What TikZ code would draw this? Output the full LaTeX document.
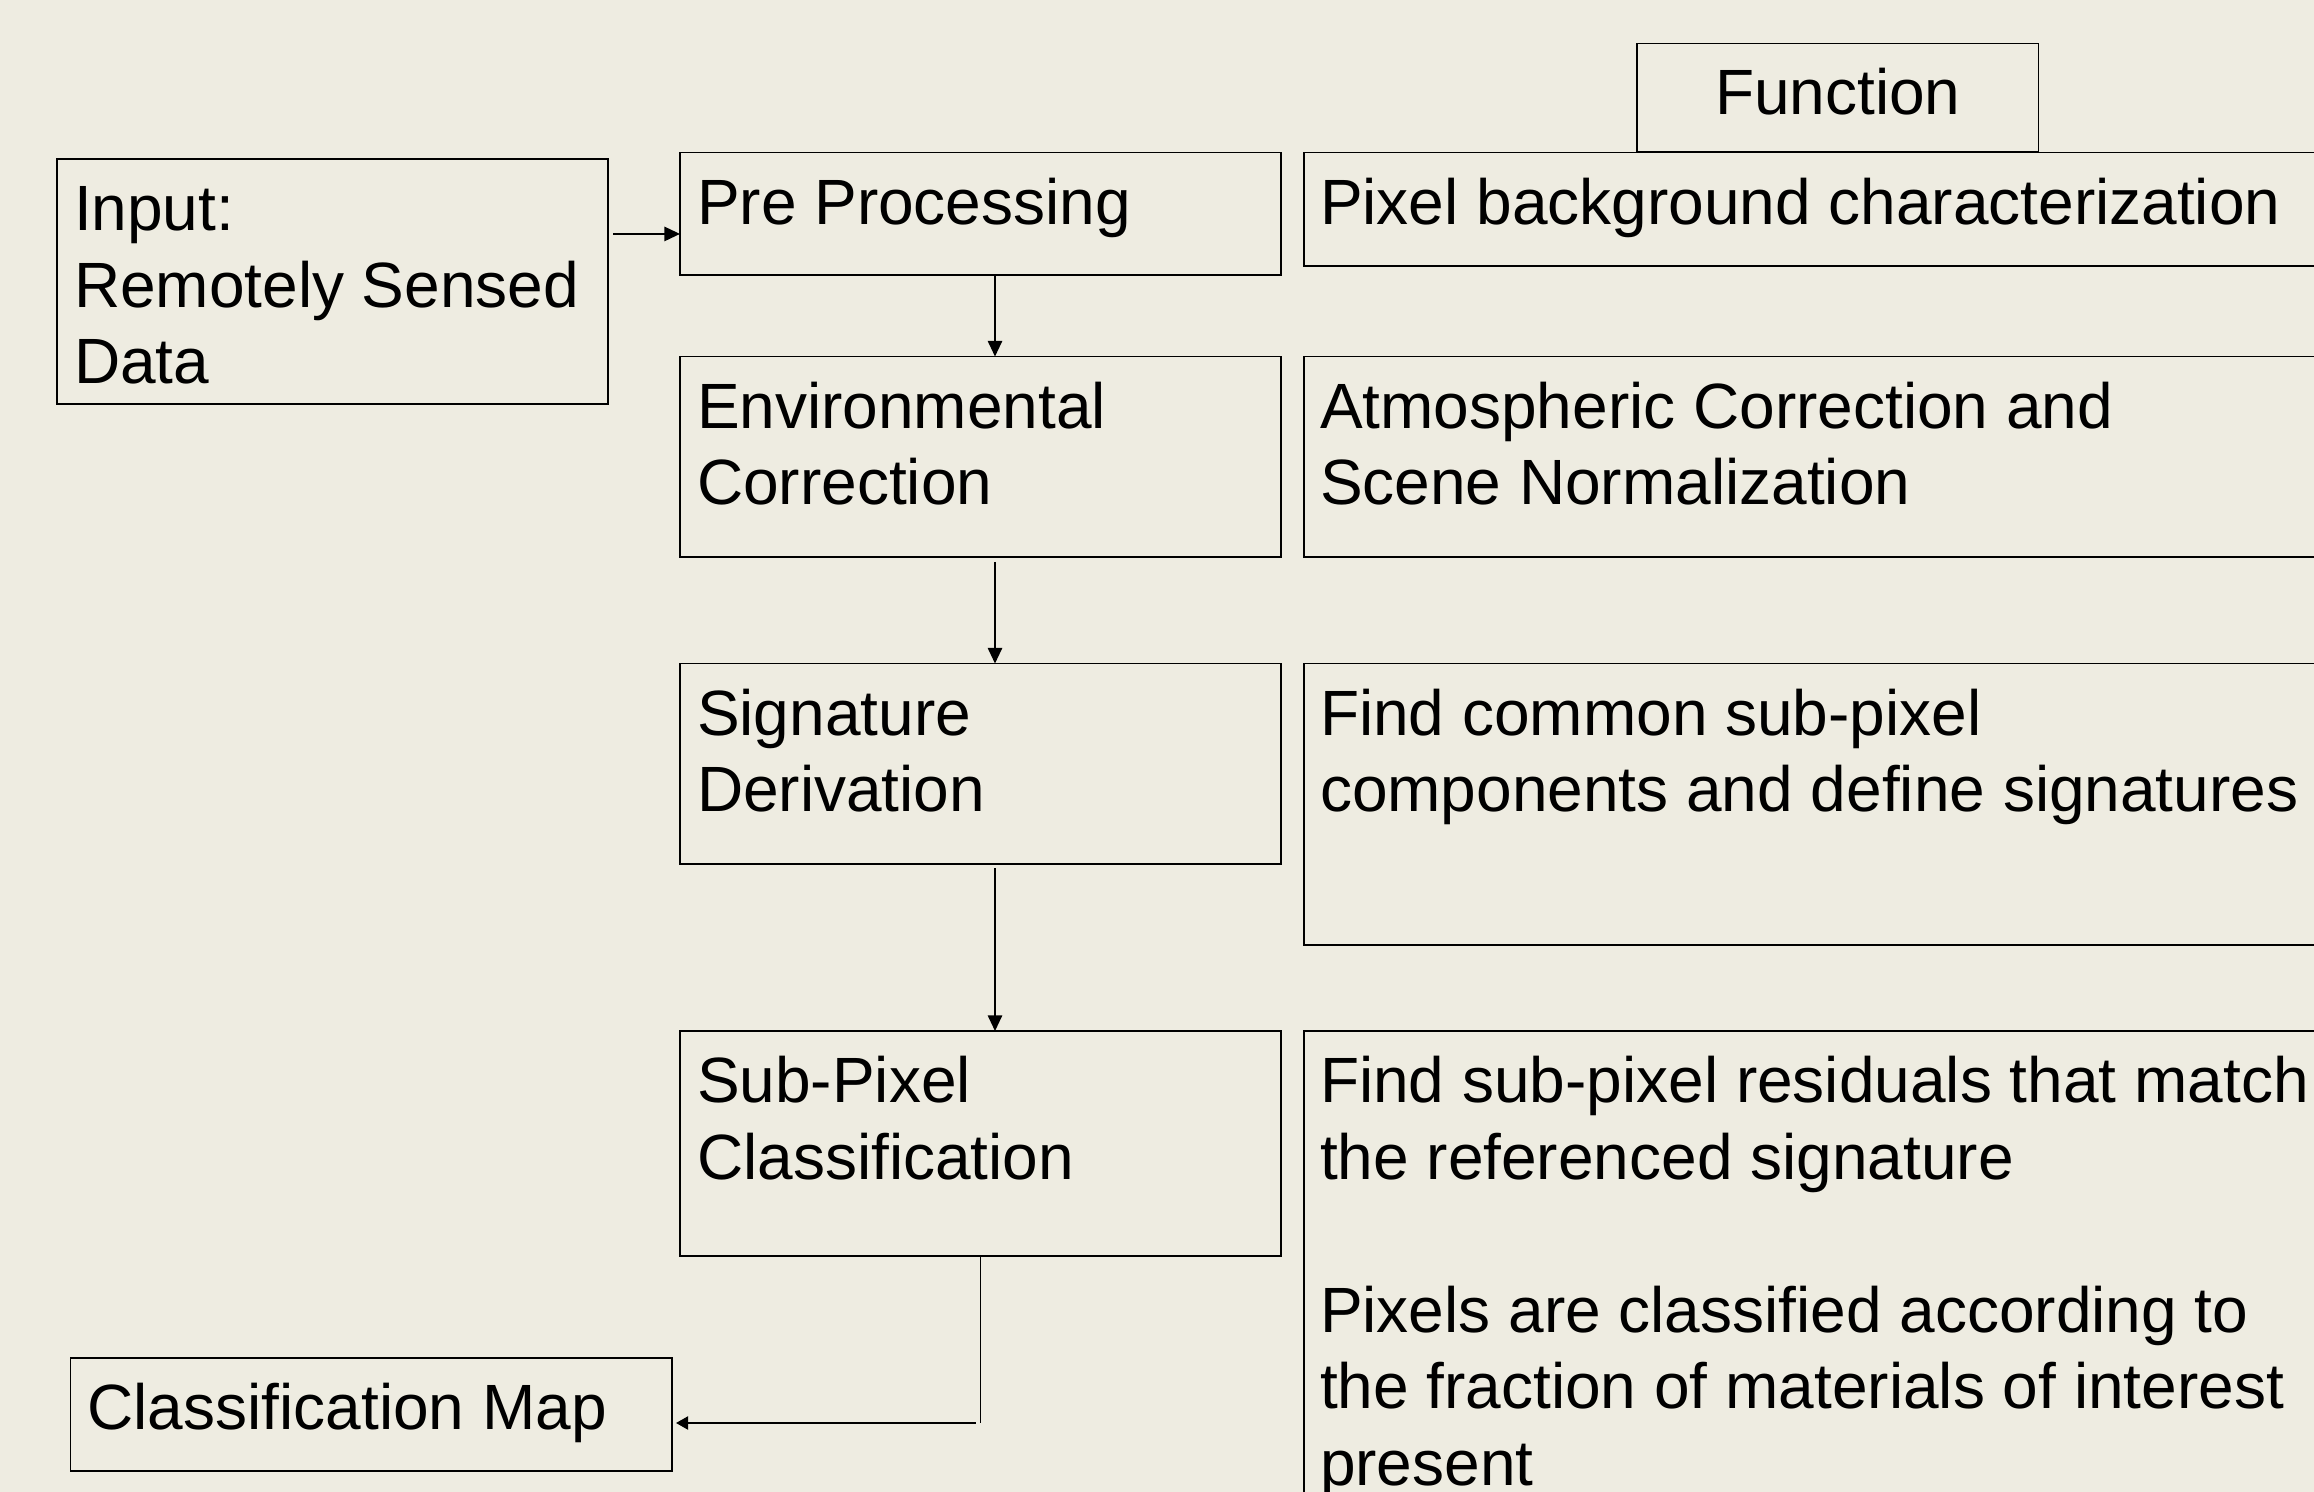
\documentclass[tikz,border=0pt]{standalone}
\usepackage{fontspec}
\setmainfont{Liberation Sans}
\usetikzlibrary{arrows.meta}
\definecolor{bgc}{RGB}{238,236,225}
\tikzset{
  box/.style={draw=black, line width=0.8pt, inner sep=0pt, outer sep=0pt, anchor=north west, minimum width=300.5pt},
  txt/.style={inner sep=0pt, outer sep=0pt, align=left, anchor=base west, font=\fontsize{32}{38.25}\selectfont},
  arr/.style={draw=black, line width=0.75pt, -{Triangle[length=7.8pt,width=7.2pt]}},
  arrtwo/.style={draw=black, line width=1pt, -{Triangle[length=6pt,width=6.5pt]}},
  thinline/.style={draw=black, line width=0.5pt}
}
\begin{document}
\begin{tikzpicture}[x=0.5pt,y=-0.5pt]
\useasboundingbox[fill=bgc] (0,0) rectangle (2314,1492);
% left column boxes
\node[box, minimum width=275.5pt, minimum height=122.5pt] (inp) at (57,159) {};
\node[box, minimum height=61.25pt] (pp) at (680,152.5) {};
\node[box, minimum height=100.25pt] (env) at (680,356.5) {};
\node[box, minimum height=100.25pt] (sig) at (680,663.5) {};
\node[box, minimum height=112.5pt] (sub) at (680,1031) {};
\node[box, minimum width=300.75pt, minimum height=56.5pt] (cmap) at (70.5,1358) {};
% right column boxes
\node[box, minimum width=200.75pt, minimum height=54.25pt] (func) at (1637,43.5) {};
\node[box, minimum width=515pt, minimum height=56.75pt] (pix) at (1304,152.5) {};
\node[box, minimum width=515pt, minimum height=100.25pt] (atm) at (1304,356.5) {};
\node[box, minimum width=515pt, minimum height=140.75pt] (fcs) at (1304,663.5) {};
\node[box, minimum width=515pt, minimum height=240pt] (fsp) at (1304,1031) {};
% texts (anchor = baseline of last line)
\node[txt] (tinp) at ([shift={(17,224.7)}]inp.north west) {Input:\\Remotely Sensed\\Data};
\node[txt] (tpp) at ([shift={(17,71.7)}]pp.north west) {Pre Processing};
\node[txt] (tenv) at ([shift={(17,148.2)}]env.north west) {Environmental\\Correction};
\node[txt] (tsig) at ([shift={(17,148.2)}]sig.north west) {Signature\\Derivation};
\node[txt] (tsub) at ([shift={(17,148.2)}]sub.north west) {Sub-Pixel\\Classification};
\node[txt] (tcmap) at ([shift={(17,71.7)}]cmap.north west) {Classification Map};
\node[txt, anchor=base] (tfunc) at ([shift={(0,70.7)}]func.north) {Function};
\node[txt] (tpix) at ([shift={(16,71.7)}]pix.north west) {Pixel background characterization};
\node[txt] (tatm) at ([shift={(16,148.2)}]atm.north west) {Atmospheric Correction and\\Scene Normalization};
\node[txt] (tfcs) at ([shift={(16,148.2)}]fcs.north west) {Find common sub-pixel\\components and define signatures};
\node[txt] (tfsp) at ([shift={(16,454.2)}]fsp.north west) {Find sub-pixel residuals that match\\the referenced signature\\[38.25pt]Pixels are classified according to\\the fraction of materials of interest\\present};
% connectors
\coordinate (ppin) at ([yshift=-10.1pt]pp.west);
\coordinate (inpout) at ([xshift=2.5pt]inp.east);
\draw[arr] (inpout |- ppin) -- (ppin);
\draw[arr] ([xshift=7.25pt]pp.south) -- ([xshift=7.25pt]env.north);
\draw[arr] ([xshift=7.25pt,yshift=-2.5pt]env.south) -- ([xshift=7.25pt]sig.north);
\draw[arr] ([xshift=7.25pt,yshift=-2pt]sig.south) -- ([xshift=7.25pt]sub.north);
\coordinate (cmin) at ([yshift=-4.25pt]cmap.east);
\coordinate (corner) at (sub.south |- cmin);
\draw[thinline] (sub.south) -- (corner);
\draw[arrtwo] ([xshift=-2.5pt]corner) -- ([xshift=2pt]cmin);
\end{tikzpicture}
\end{document}
